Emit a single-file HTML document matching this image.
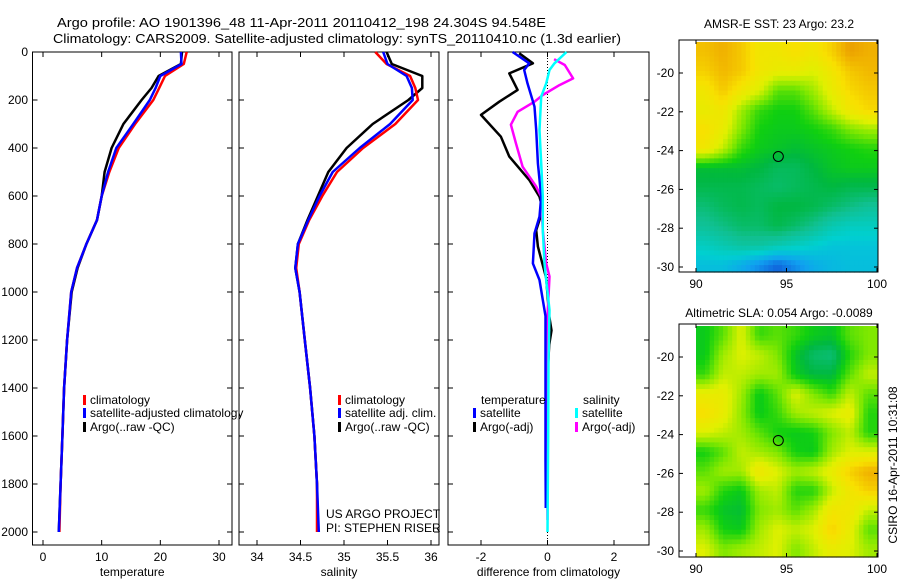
<!DOCTYPE html>
<html><head><meta charset="utf-8"><style>
html,body{margin:0;padding:0;background:#fff;}
svg{display:block;font-family:"Liberation Sans",sans-serif;}
text{font-size:12px;fill:#000;}
</style></head><body>
<svg id="fig" width="900" height="580" viewBox="0 0 900 580">
<text x="57" y="27" textLength="489" lengthAdjust="spacingAndGlyphs" style="font-size:13px">Argo profile: AO 1901396_48 11-Apr-2011 20110412_198 24.304S 94.548E</text>
<text x="53" y="43" style="font-size:13px" textLength="568" lengthAdjust="spacingAndGlyphs">Climatology: CARS2009. Satellite-adjusted climatology: synTS_20110410.nc (1.3d earlier)</text>
<text x="779" y="28" text-anchor="middle">AMSR-E SST: 23 Argo: 23.2</text>
<text x="779" y="317" text-anchor="middle">Altimetric SLA: 0.054 Argo: -0.0089</text>
<text transform="translate(897,465) rotate(-90)" text-anchor="middle">CSIRO 16-Apr-2011 10:31:08</text>
</svg>
<script>
// ---- data ----
const depths = [0,50,100,150,200,300,400,500,600,700,800,900,1000,1200,1400,1600,1800,2000];
const tempClim = [24.5,24.0,20.8,19.8,18.8,15.7,12.9,11.3,10.0,9.2,7.4,5.8,4.8,4.1,3.6,3.3,3.0,2.8];
const tempSat  = [23.5,23.6,20.0,19.2,18.2,15.4,12.5,11.1,10.0,9.2,7.4,5.8,4.8,4.1,3.6,3.3,3.0,2.7];
const tempArgo = [23.7,23.5,19.7,18.5,16.8,13.7,11.7,10.5,10.0,9.2,7.4,5.9,4.9,4.1,3.6,3.3,3.0,2.7];
const salClim = [35.36,35.49,35.76,35.82,35.85,35.59,35.22,34.92,34.75,34.60,34.48,34.45,34.49,34.55,34.61,34.66,34.69,34.69];
const salSat  = [35.45,35.50,35.72,35.78,35.79,35.53,35.18,34.87,34.72,34.59,34.47,34.44,34.49,34.55,34.61,34.66,34.69,34.71];
const salArgo = [35.49,35.55,35.90,35.90,35.74,35.33,35.03,34.82,34.70,34.58,34.47,34.44,34.49,34.55,34.61,34.66,34.69,34.70];
const dTempArgoDepth = [5,47,89,158,207,262,353,436,533,603,658,742,811,942,1100,1160,1220,1400,1600,1800,1900];
const dTempArgo = [-0.85,-0.44,-1.15,-0.9,-1.45,-2.0,-1.4,-1.15,-0.55,-0.24,-0.14,-0.34,-0.29,-0.04,0.05,0.12,0.05,-0.02,-0.02,-0.02,-0.05];
const dTempSatDepth = [0,47,75,131,228,325,464,603,686,756,881,950,1033,1100,1400,1700,1900];
const dTempSat = [-1.05,-0.55,-0.7,-0.6,-0.39,-0.34,-0.29,-0.19,-0.24,-0.39,-0.44,-0.24,-0.14,-0.06,-0.06,-0.06,-0.05];
const dSalSatDepth = [0,47,75,131,186,325,464,603,742,881,950,1075,1300,1600,2000];
const dSalSat = [0.57,0.21,0.06,-0.04,-0.19,-0.24,-0.19,-0.14,-0.14,-0.09,-0.04,0.06,0.03,0.02,0.0];
const dSalArgoDepth = [30,54,110,138,179,207,249,303,380,478,561,603,742,881,936,1100,1500,1950];
const dSalArgo = [0.2,0.52,0.77,0.36,-0.14,-0.39,-0.9,-1.1,-0.95,-0.75,-0.34,-0.19,-0.14,-0.04,0.06,0.0,-0.02,0.0];
const tempTicks = [0,10,20,30];
const salTicks = [34,34.5,35,35.5,36];
const diffTicks = [-2,0,2];
const depthTicks = [0,200,400,600,800,1000,1200,1400,1600,1800,2000];
const lonTicks = [90,95,100];
const latTicks = [-20,-22,-24,-26,-28,-30];
const sstGrid = [
[.78,.80,.77,.72,.72,.74,.72,.76,.82,.80],
[.76,.79,.77,.72,.70,.70,.68,.72,.77,.79],
[.72,.77,.72,.68,.60,.60,.64,.70,.75,.77],
[.70,.72,.64,.58,.56,.56,.60,.66,.72,.75],
[.74,.70,.62,.56,.55,.55,.56,.58,.62,.64],
[.72,.66,.58,.55,.54,.53,.54,.55,.56,.57],
[.53,.53,.53,.52,.50,.50,.52,.54,.55,.55],
[.51,.51,.51,.50,.49,.50,.51,.52,.51,.51],
[.48,.50,.51,.50,.52,.52,.51,.49,.47,.45],
[.45,.47,.49,.49,.51,.49,.46,.42,.40,.40],
[.40,.42,.44,.44,.42,.40,.38,.36,.36,.36],
[.35,.35,.32,.28,.24,.28,.32,.34,.35,.35]];
const slaGrid = [
[.55,.60,.68,.58,.60,.58,.55,.54,.60,.62],
[.55,.64,.68,.66,.62,.54,.49,.48,.57,.62],
[.58,.66,.66,.64,.64,.55,.52,.52,.60,.66],
[.70,.70,.64,.55,.60,.68,.62,.58,.66,.60],
[.74,.70,.63,.55,.58,.64,.66,.68,.70,.57],
[.68,.66,.64,.60,.56,.55,.56,.62,.66,.57],
[.56,.60,.66,.64,.62,.56,.55,.64,.68,.68],
[.60,.64,.64,.72,.68,.64,.66,.70,.76,.80],
[.64,.57,.55,.64,.66,.57,.57,.66,.72,.76],
[.58,.54,.53,.62,.64,.60,.64,.72,.72,.66],
[.64,.56,.55,.64,.68,.66,.68,.76,.70,.60],
[.68,.62,.64,.66,.68,.62,.66,.70,.68,.64]];
const floatLon = 94.548, floatLat = -24.304;

// ---- helpers ----
const NS = "http://www.w3.org/2000/svg";
const svg = document.getElementById('fig');
function mk(tag, attrs, parent){
  const e = document.createElementNS(NS, tag);
  for (const k in attrs) e.setAttribute(k, attrs[k]);
  (parent||svg).appendChild(e); return e;
}
const yDepth = d => 52 + d * 0.24;
function lin(d0,d1,r0,r1){ return v => r0 + (v-d0)*(r1-r0)/(d1-d0); }

function panel(name, x0, x1, xs, ticks, label, showY){
  const g = mk('g', {});
  
  
  const r = mk('rect', {x:x0, y:52, width:x1-x0, height:493, fill:'none', stroke:'#000', 'stroke-width':1}, g);
  
  
  ticks.forEach(t => {
    const x = xs(t);
    mk('line', {x1:x, x2:x, y1:545, y2:540, stroke:'#000'}, g);
    mk('line', {x1:x, x2:x, y1:52, y2:57, stroke:'#000'}, g);
    const tx = mk('text', {x:x, y:561, 'text-anchor':'middle'}, g);
    tx.textContent = t;
    
    
  });
  depthTicks.forEach(d => {
    const y = yDepth(d);
    mk('line', {x1:x0, x2:x0+5, y1:y, y2:y, stroke:'#000'}, g);
    mk('line', {x1:x1, x2:x1-5, y1:y, y2:y, stroke:'#000'}, g);
    if (showY){
      const tx = mk('text', {x:28, y:y+4, 'text-anchor':'end'}, g);
      tx.textContent = d;
      
      
    }
  });
  const xl = mk('text', {x:(x0+x1)/2, y:576, 'text-anchor':'middle'}, g);
  xl.textContent = label;
  
  
  return g;
}
function line(g, name, xs, vals, deps, color){
  const pts = vals.map((v,i) => xs(v).toFixed(1)+','+yDepth(deps[i]).toFixed(1)).join(' ');
  const p = mk('polyline', {points:pts, fill:'none', stroke:color, 'stroke-width':2.5, 'stroke-linejoin':'round'}, g);
  
  
}
function legend(g, name, x, y, color, label){
  mk('rect', {x:x, y:y-9, width:3, height:10, fill:color}, g);
  const t = mk('text', {x:x+7, y:y}, g);
  t.textContent = label;
  
  
}

// temperature
const xT = lin(0,30,43,219);
const gT = panel('temperature', 32.5, 232, xT, tempTicks, 'temperature', true);
line(gT, 'temp-argo-line', xT, tempArgo, depths, '#000');
line(gT, 'temp-clim-line', xT, tempClim, depths, '#f00');
line(gT, 'temp-sat-line', xT, tempSat, depths, '#00f');
legend(gT, 'legend-climatology', 83, 404, '#f00', 'climatology');
legend(gT, 'legend-satellite-adjusted', 83, 417, '#00f', 'satellite-adjusted climatology');
legend(gT, 'legend-argo', 83, 431, '#000', 'Argo(..raw -QC)');
mk('rect', {x:238, y:405, width:1, height:15, fill:'#fff'});

// salinity
const xS = lin(34,36,257,431);
const gS = panel('salinity', 239, 439, xS, salTicks, 'salinity', false);
line(gS, 'sal-argo-line', xS, salArgo, depths, '#000');
line(gS, 'sal-clim-line', xS, salClim, depths, '#f00');
line(gS, 'sal-sat-line', xS, salSat, depths, '#00f');
legend(gS, 'legend-sal-climatology', 338, 404, '#f00', 'climatology');
legend(gS, 'legend-sal-satellite', 338, 417, '#00f', 'satellite adj. clim.');
legend(gS, 'legend-sal-argo', 338, 431, '#000', 'Argo(..raw -QC)');
const pj = mk('text', {x:326, y:518}, gS); pj.textContent = 'US ARGO PROJECT';
 
const pi = mk('text', {x:326, y:532}, gS); pi.textContent = 'PI: STEPHEN RISER';
 

// difference
const xD = lin(-2,2,481,614);
const gD = panel('difference', 448, 649, xD, diffTicks, 'difference from climatology', false);
const zl = mk('line', {x1:xD(0), x2:xD(0), y1:52, y2:545, stroke:'#000', 'stroke-dasharray':'1,2'}, gD);
 
line(gD, 'diff-temp-argo-line', xD, dTempArgo, dTempArgoDepth, '#000');
line(gD, 'diff-sal-argo-line', xD, dSalArgo, dSalArgoDepth, '#f0f');
line(gD, 'diff-temp-sat-line', xD, dTempSat, dTempSatDepth, '#00f');
line(gD, 'diff-sal-sat-line', xD, dSalSat, dSalSatDepth, '#0ff');
const lt = mk('text', {x:481, y:404}, gD); lt.textContent = 'temperature';
 
const ls = mk('text', {x:583, y:404}, gD); ls.textContent = 'salinity';
 
legend(gD, 'legend-temp-satellite', 473, 417, '#00f', 'satellite');
legend(gD, 'legend-temp-argo', 473, 431, '#000', 'Argo(-adj)');
legend(gD, 'legend-sal-satellite-diff', 575, 417, '#0ff', 'satellite');
legend(gD, 'legend-sal-argo-diff', 575, 431, '#f0f', 'Argo(-adj)');

// maps
const stops = [[0.2,[16,64,208]],[0.3,[16,160,240]],[0.38,[0,208,208]],[0.46,[16,192,144]],[0.52,[0,184,64]],[0.56,[16,208,16]],[0.62,[128,232,0]],[0.68,[224,240,0]],[0.74,[248,224,0]],[0.80,[240,176,0]],[0.86,[224,128,0]]];
function cmap(v){
  if (v<=stops[0][0]) return 'rgb('+stops[0][1]+')';
  for (let i=1;i<stops.length;i++){
    if (v<=stops[i][0]){
      const a=stops[i-1], b=stops[i], f=(v-a[0])/(b[0]-a[0]);
      return 'rgb('+a[1].map((c,k)=>Math.round(c+(b[1][k]-c)*f)).join(',')+')';
    }
  }
  return 'rgb('+stops[stops.length-1][1]+')';
}
function sample(grid, fr, fc){
  const nr = grid.length, nc = grid[0].length;
  const r = Math.min(Math.max(fr-0.5,0),nr-1), c = Math.min(Math.max(fc-0.5,0),nc-1);
  const r0 = Math.floor(r), c0 = Math.floor(c);
  const r1 = Math.min(r0+1,nr-1), c1 = Math.min(c0+1,nc-1);
  const a = r-r0, b = c-c0;
  return grid[r0][c0]*(1-a)*(1-b) + grid[r0][c1]*(1-a)*b + grid[r1][c0]*a*(1-b) + grid[r1][c1]*a*b;
}
function map(name, grid, boxTop, boxBot, y20, y30){
  const g = mk('g', {});
  
  
  const xm = lin(90,100,696,877), ym = lin(-20,-30,y20,y30);
  const nr = grid.length, nc = grid[0].length;
  const latTop = -18.4, sub = 4;
  for (let r=0; r<nr*sub; r++){
    for (let c=0; c<nc*sub; c++){
      const v = sample(grid, (r+0.5)/sub, (c+0.5)/sub);
      const x0 = xm(90+c/sub), x1 = xm(90+(c+1)/sub);
      const yA = Math.max(boxTop+1, ym(latTop - r/sub)), yB = Math.min(boxBot, ym(latTop - (r+1)/sub));
      const cell = mk('rect', {x:x0.toFixed(1), y:yA.toFixed(1), width:(x1-x0+0.6).toFixed(1), height:(yB-yA+0.6).toFixed(1), fill:cmap(v)}, g);
      
      
    }
  }
  const b = mk('rect', {x:679, y:boxTop, width:199, height:boxBot-boxTop, fill:'none', stroke:'#000'}, g);
   
  lonTicks.forEach(t => {
    const x = xm(t);
    mk('line', {x1:x, x2:x, y1:boxBot, y2:boxBot-4, stroke:'#000'}, g);
    mk('line', {x1:x, x2:x, y1:boxTop, y2:boxTop+4, stroke:'#000'}, g);
    const tx = mk('text', {x:x, y:boxBot+16, 'text-anchor':'middle'}, g);
    tx.textContent = t;
     
  });
  latTicks.forEach(t => {
    const y = ym(t);
    mk('line', {x1:679, x2:683, y1:y, y2:y, stroke:'#000'}, g);
    mk('line', {x1:878, x2:874, y1:y, y2:y, stroke:'#000'}, g);
    const tx = mk('text', {x:674, y:y+4, 'text-anchor':'end'}, g);
    tx.textContent = t;
     
  });
  const c = mk('circle', {cx:xm(floatLon), cy:ym(floatLat), r:5, fill:'none', stroke:'#000', 'stroke-width':1}, g);
   
}
map('sst-map', sstGrid, 40, 272, 73, 267);
map('sla-map', slaGrid, 324, 557, 357, 551);
</script>
</body></html>
